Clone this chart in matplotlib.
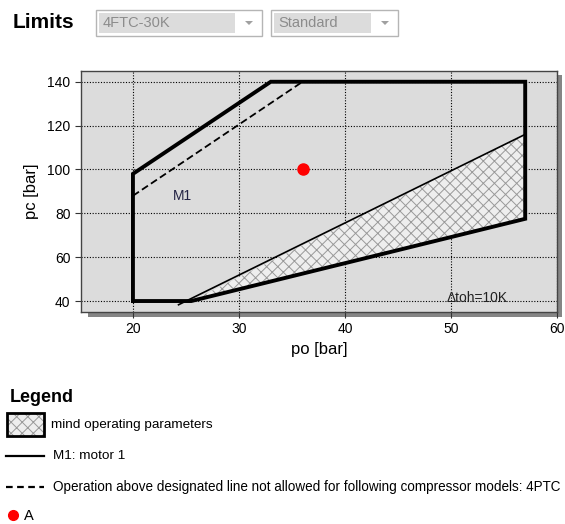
import matplotlib
matplotlib.use('Agg')
from matplotlib import pyplot as plt
from matplotlib.patches import Rectangle, Polygon

plt.rcParams['font.family'] = ['Liberation Sans', 'DejaVu Sans']
plt.rcParams['hatch.linewidth'] = 0.7

# envelope of motor M1 (po, pc)
env_po = [20, 20, 33, 57, 57, 25.5, 20]
env_pc = [40, 98, 140, 140, 77.5, 40, 40]

# "mind operating parameters" area
mind_po = [25.5, 57, 57]
mind_pc = [40, 116, 77.5]
mind_line_po = [24.3, 57]
mind_line_pc = [38.3, 116]

# dashed 4PTC limit
dash_po = [20, 36]
dash_pc = [88, 140]

# operating point A
pt_po = [36]
pt_pc = [100]

xticks = [20, 30, 40, 50, 60]
yticks = [40, 60, 80, 100, 120, 140]

W, H = 565, 524
fig = plt.figure(figsize=(W / 100, H / 100), dpi=100)
fig.patch.set_facecolor('white')

# overlay in pixel coordinates for widgets / legend / shadow
bg = fig.add_axes([0, 0, 1, 1], zorder=0)
bg.set_xlim(0, W)
bg.set_ylim(H, 0)
bg.axis('off')

# shadow of the plot panel
bg.add_patch(Rectangle((88, 312), 474, 5, color='#858585', lw=0))
bg.add_patch(Rectangle((557, 75), 5, 242, color='#858585', lw=0))

ax = fig.add_axes([81 / W, 1 - 312 / H, 476 / W, 241 / H], zorder=1)
ax.set_facecolor('#dcdcdc')
ax.set_xlim(15.1, 60)
ax.set_ylim(35, 144.9)
ax.set_xticks(xticks)
ax.set_yticks(yticks)
ax.grid(True, color='black', linestyle=(0, (1, 1.5)), linewidth=0.8)
ax.tick_params(labelsize=10, length=4, width=0.8, color='#333333')
for s in ax.spines.values():
    s.set_color('#444444')
    s.set_linewidth(1)
ax.set_axisbelow(True)

ax.add_patch(Polygon(list(zip(mind_po, mind_pc)), closed=True,
                     facecolor='#eeeeee', edgecolor='#999999', hatch='xxx',
                     lw=0, zorder=2))
ax.plot(mind_line_po, mind_line_pc, color='black', lw=1.2, zorder=3)
ax.plot(env_po, env_pc, color='black', lw=2.8, zorder=4, solid_joinstyle='miter')
ax.plot(dash_po, dash_pc, color='black', lw=1.3, linestyle=(0, (4, 2)), zorder=4)
ax.plot(pt_po, pt_pc, 'o', color='#ff0000', ms=8, zorder=5)

ax.text(24.7, 87.7, 'M1', fontsize=10, color='#222244', ha='center', va='center', zorder=6)
ax.text(52.5, 41.5, '\u0394toh=10K', fontsize=10, color='#222222', ha='center', va='center', zorder=6)

ax.set_xlabel('po [bar]', fontsize=12, labelpad=4)
ax.set_ylabel('pc [bar]', fontsize=12, labelpad=6)

# header
bg.text(13, 23, 'Limits', fontsize=15, fontweight='bold', va='center', ha='left')
for x0, x1, label in [(96, 262, '4FTC-30K'), (271, 398, 'Standard')]:
    bg.add_patch(Rectangle((x0, 10), x1 - x0, 26, facecolor='white', edgecolor='#b5b5b5', lw=1))
    bg.add_patch(Rectangle((x0 + 3, 13), x1 - x0 - 30, 20, facecolor='#dcdcdc', lw=0))
    bg.text(x0 + 7, 23, label, fontsize=10.5, color='#8c8c8c', va='center', ha='left')
    bg.add_patch(Polygon([(x1 - 17, 21), (x1 - 9, 21), (x1 - 13, 25)], closed=True,
                         facecolor='#a0a0a0', lw=0))

# legend block
bg.text(10, 397, 'Legend', fontsize=13, fontweight='bold', va='center', ha='left')
bg.add_patch(Rectangle((7, 413), 37, 23, facecolor='#eeeeee', edgecolor='#999999',
                       hatch='xxx', lw=0))
bg.add_patch(Rectangle((7, 413), 37, 23, fill=False, edgecolor='black', lw=2))
bg.text(51, 425, 'mind operating parameters', fontsize=9.7, va='center', ha='left')
bg.plot([6, 44], [456, 456], color='black', lw=1.6)
bg.text(53, 456, 'M1: motor 1', fontsize=9.7, va='center', ha='left')
bg.plot([6, 44], [487, 487], color='black', lw=1.6, linestyle=(0, (3, 2)))
bg.text(53, 487, 'Operation above designated line not allowed for following compressor models: 4PTC',
        fontsize=9.75, va='center', ha='left')
bg.plot([13], [515], 'o', color='#ff0000', ms=7)
bg.text(24, 516, 'A', fontsize=10.5, va='center', ha='left')

fig.savefig('out.png', dpi=100)
